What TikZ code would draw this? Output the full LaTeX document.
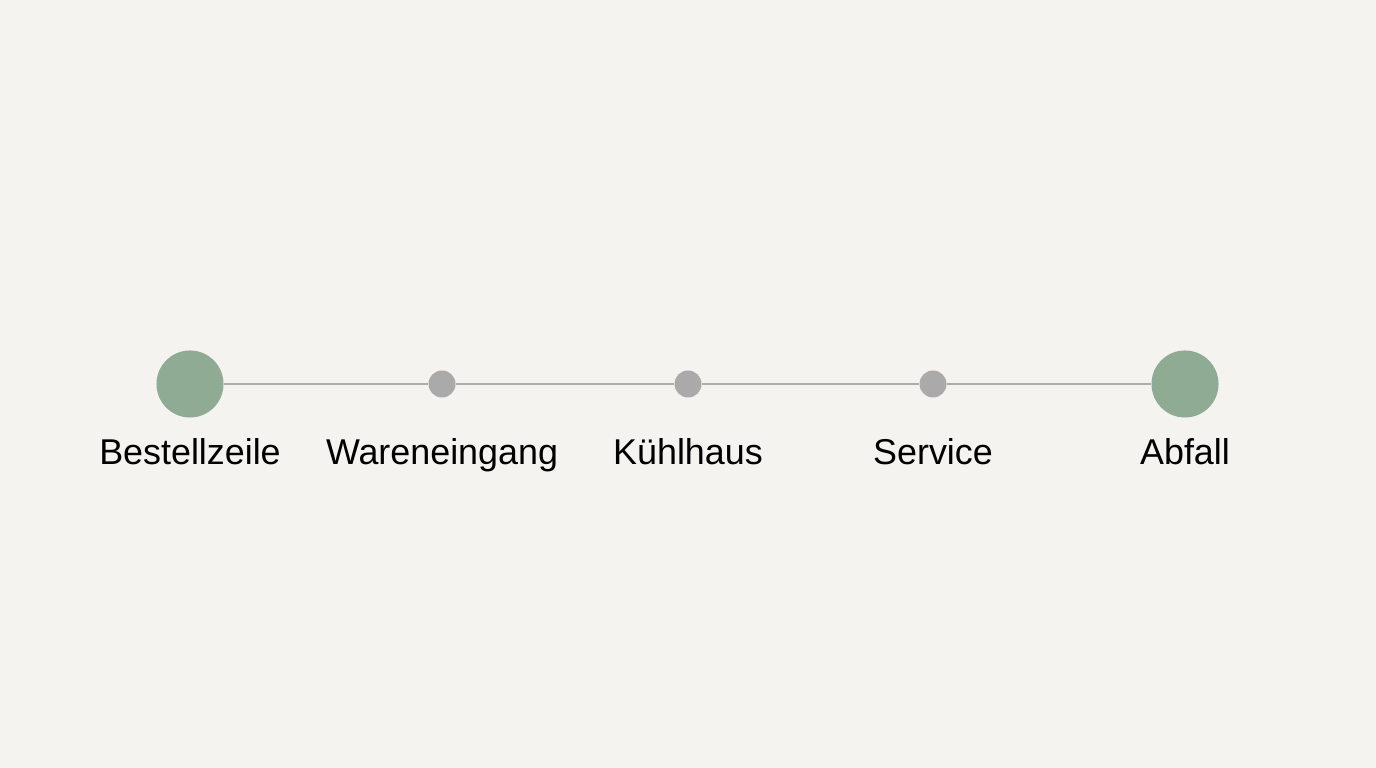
\documentclass[tikz,border=0pt]{standalone}
\usepackage{fontspec}
\setmainfont{Liberation Sans}
\definecolor{bgcol}{HTML}{F4F3EF}
\definecolor{stopgreen}{HTML}{8FAB94}
\definecolor{stopgray}{HTML}{AAAAAA}
\definecolor{linegray}{HTML}{ADADAD}
\begin{document}
\begin{tikzpicture}[x=0.01cm,y=-0.01cm,
	endstop/.style={circle,fill=stopgreen,minimum size=0.67cm,inner sep=0pt},
	midstop/.style={circle,fill=stopgray,minimum size=0.27cm,inner sep=0pt},
	stoplabel/.style={anchor=base,font=\fontsize{10.2}{12}\selectfont,text=black}]
	\fill[bgcol] (0,0) rectangle (1376,768);
	\useasboundingbox (0,0) rectangle (1376,768);
	\node[endstop] (bestell) at (190,384) {};
	\node[midstop] (waren) at (442,384) {};
	\node[midstop] (kuehl) at (688,384) {};
	\node[midstop] (service) at (933,384) {};
	\node[endstop] (abfall) at (1185,384) {};
	\draw[linegray,line width=0.6pt] (bestell) -- (waren) -- (kuehl) -- (service) -- (abfall);
	\node[stoplabel] (bestelltxt) at (190,465) {Bestellzeile};
	\node[stoplabel] (warentxt) at (442,465) {Wareneingang};
	\node[stoplabel] (kuehltxt) at (688,465) {Kühlhaus};
	\node[stoplabel] (servicetxt) at (933,465) {Service};
	\node[stoplabel] (abfalltxt) at (1185,465) {Abfall};
	
\end{tikzpicture}
\end{document}
